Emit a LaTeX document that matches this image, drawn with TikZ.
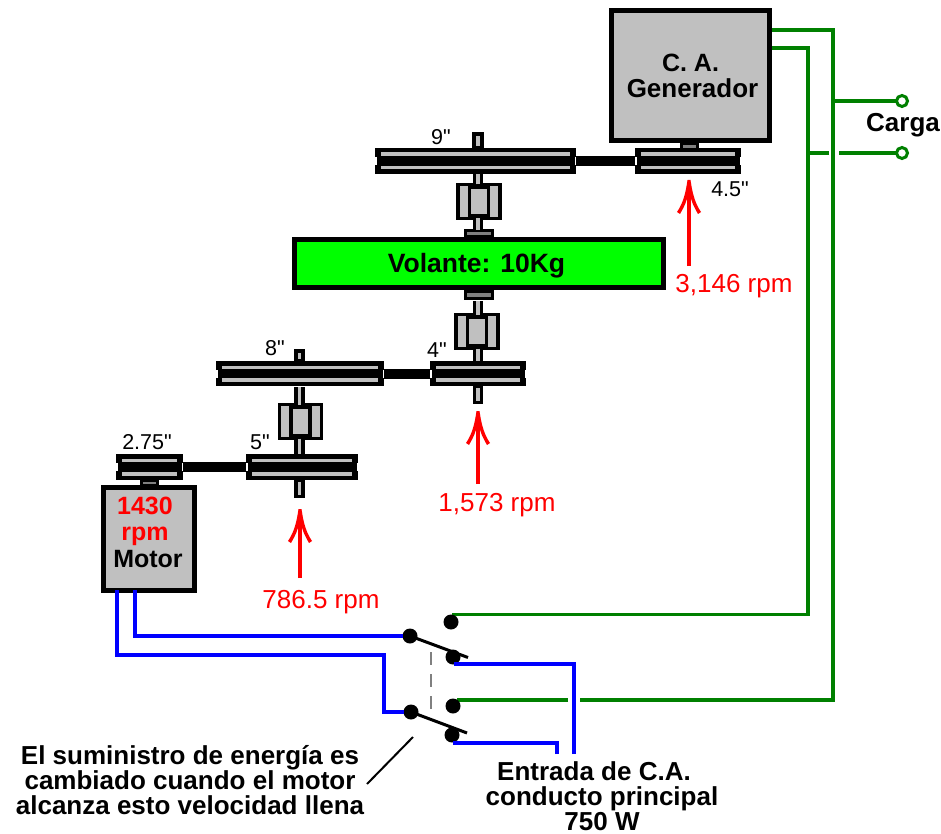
\documentclass[tikz,border=0pt]{standalone}
\usepackage{fontspec}
\setmainfont{Liberation Sans}[Ligatures=TeXOff]
\usetikzlibrary{arrows.meta}
\definecolor{hwgray}{HTML}{C0C0C0}
\definecolor{hwdark}{HTML}{808080}
\definecolor{wgreen}{HTML}{008000}
\definecolor{wblue}{HTML}{0000FF}
\definecolor{rpmred}{HTML}{FF0000}
\definecolor{flygreen}{HTML}{00FF00}
\pgfdeclarearrow{
  name=Flare,
  setup code={%
    \pgfarrowssettipend{0pt}%
    \pgfarrowssetlineend{-12pt}%
    \pgfarrowssetbackend{-34pt}%
    \pgfarrowshullpoint{0pt}{0pt}%
    \pgfarrowshullpoint{-34pt}{12pt}%
    \pgfarrowshullpoint{-34pt}{-12pt}%
  },
  drawing code={%
    \pgfpathmoveto{\pgfpoint{0pt}{1.5pt}}%
    \pgfpathcurveto{\pgfpoint{-10pt}{3pt}}{\pgfpoint{-22pt}{5pt}}{\pgfpoint{-32pt}{12pt}}%
    \pgfpathlineto{\pgfpoint{-34pt}{9pt}}%
    \pgfpathcurveto{\pgfpoint{-27pt}{5pt}}{\pgfpoint{-20pt}{1.5pt}}{\pgfpoint{-15pt}{1.5pt}}%
    \pgfpathlineto{\pgfpoint{-15pt}{-1.5pt}}%
    \pgfpathcurveto{\pgfpoint{-20pt}{-1.5pt}}{\pgfpoint{-27pt}{-5pt}}{\pgfpoint{-34pt}{-9pt}}%
    \pgfpathlineto{\pgfpoint{-32pt}{-12pt}}%
    \pgfpathcurveto{\pgfpoint{-22pt}{-5pt}}{\pgfpoint{-10pt}{-3pt}}{\pgfpoint{0pt}{-1.5pt}}%
    \pgfpathclose
    \pgfusepathqfill
  },
}
\newcommand{\bx}[6]{\node[#6,minimum width={#4-#2},minimum height={#5-#3}] (#1) at ({(#2+#4)/2},{(#3+#5)/2}) {};}
\newcommand{\pulleyat}[5]{%
  \bx{#1}{#2}{#3}{#4}{#5}{solidblack}
  \fill[white] (#2,{(#3+#5)/2-4}) rectangle ({#2+1.5},{(#3+#5)/2+4});
  \fill[white] ({#4-1.5},{(#3+#5)/2-4}) rectangle (#4,{(#3+#5)/2+4});
  \fill[hwgray] ({#2+6},{#3+4.5}) rectangle ({#4-6},{#3+8});
  \fill[hwgray] ({#2+6},{#5-8}) rectangle ({#4-6},{#5-4.5});
}
\newcommand{\bearingat}[5]{%
  \bx{#1}{#2}{#3}{#4}{#5}{hwbox}
  \node[hwbox,minimum width=19,minimum height={#5-#3-5}] at ({(#2+#4)/2},{(#3+#5)/2}) {};
}
\tikzset{
  solidblack/.style={fill=black,inner sep=0,outer sep=0},
  hwbox/.style={draw=black,fill=hwgray,line width=3.4,inner sep=0,outer sep=0},
  massbox/.style={draw=black,line width=5,inner sep=0,outer sep=0,align=center},
  collar/.style={draw=black,fill=hwdark,line width=3,inner sep=0,outer sep=0},
  stub/.style={draw=black,fill=hwgray,line width=3.2,inner sep=0,outer sep=0},
  shaft/.style={draw=black,double=hwgray,double distance=3.6,line width=3.4},
  belt/.style={draw=black,line width=10},
  greenwire/.style={draw=wgreen,line width=3.2},
  bluewire/.style={draw=wblue,line width=3.2},
  speed/.style={draw=rpmred,line width=3.2,-Flare},
  contact/.style={circle,fill=black,minimum size=15,inner sep=0,outer sep=0},
  blade/.style={draw=black,line width=3},
  terminal/.style={circle,draw=wgreen,fill=white,line width=3,minimum size=11,inner sep=0,outer sep=0},
  heavy/.style={font=\fontsize{26}{25}\selectfont\bfseries,inner sep=0,align=center},
  rpmlabel/.style={font=\fontsize{26}{25}\selectfont,text=rpmred,inner sep=0},
  size/.style={font=\fontsize{21.5}{22}\selectfont,inner sep=0},
}
\begin{document}
\begin{tikzpicture}[x=1pt,y=-1pt]
\useasboundingbox (0,0) rectangle (941,834);
\coordinate (gA) at (772,30); \coordinate (gB) at (772,48);
\coordinate (railA) at (833,30); \coordinate (railB) at (808,48);
% pulleys
\pulleyat{pnine}{375}{148}{576}{174}
\pulleyat{pfour5}{635}{148}{741}{174}
\pulleyat{pfour}{430}{361}{526}{386}
\pulleyat{peight}{216}{361}{384}{386}
\pulleyat{pfive}{246}{454}{358}{480}
\pulleyat{ptwo}{116}{454}{183}{480}
% belts
\draw[belt] (pnine.east) -- (pfour5.west);
\draw[belt] (peight.east) -- (pfour.west);
\draw[belt] (ptwo.east) -- (pfive.west);
% masses
\node[massbox,fill=hwgray,minimum width=158,minimum height=130,font=\fontsize{25}{26}\selectfont\bfseries] (gen) at (690.5,75.5) {C. A.\\\hspace*{4pt}\fontsize{26}{26}\selectfont Generador};
\node[massbox,fill=flygreen,minimum width=369,minimum height=48,font=\fontsize{26.5}{26}\selectfont\bfseries] (fly) at (479,263.5) {\raisebox{-8.5pt}[0pt][0pt]{Volante: 10Kg}\hspace*{5pt}};
\node[massbox,fill=hwgray,minimum width=91,minimum height=103] (motor) at (149,538.5) {};
% bearings
\bearingat{bone}{458}{184.5}{500}{218.5}
\bearingat{btwo}{456}{314.5}{498}{348.5}
\bearingat{bthree}{279.5}{404.5}{321.5}{438.5}
% collars
\bx{cgen}{681}{144}{697}{150}{collar}
\bx{cflyt}{465}{230}{492}{236}{collar}
\bx{cflyb}{465}{291}{492}{298}{collar}
\bx{cmot}{141}{480}{157}{485}{collar}
% shafts
\draw[shaft] (bone.north -| fly.north) ++(-1,0) -- ++(0,-10);
\draw[shaft] (bone.south -| fly.south) ++(-1,0) -- ++(0,11);
\draw[shaft] (btwo.north -| fly.south) ++(-1,0) -- ++(0,-14);
\draw[shaft] (btwo.south -| fly.south) ++(-1,0) -- ++(0,12);
\draw[shaft] (bthree.north) ++(-1,0) -- ++(0,-18);
\draw[shaft] (bthree.south) ++(-1,0) -- ++(0,15);
% shaft stubs
\bx{stubA}{474}{134}{482}{148}{stub}
\bx{stubB}{474.5}{386}{481.5}{402.5}{stub}
\bx{stubC}{296}{351}{303}{361}{stub}
\bx{stubD}{296}{480}{303}{496.5}{stub}
% generator wires
\draw[greenwire] (gA) -- (railA) -- (833,700) -- (580,700);
\draw[greenwire] (568,700) -- (457,700);
\draw[greenwire] (gB) -- (railB) -- (808,614.5) -- (452,614.5);
\node[terminal] (tA) at (902,101) {};
\node[terminal] (tB) at (902,153) {};
\draw[greenwire] (tA) -- (833,101);
\draw[greenwire] (tB) -- (839,153);
\draw[greenwire] (829,153) -- (808,153);
% switch
\node[contact] (s1) at (410,636) {};
\node[contact] (s2) at (453,657) {};
\node[contact] (s3) at (451,622) {};
\node[contact] (s4) at (411,712) {};
\node[contact] (s5) at (453,706) {};
\node[contact] (s6) at (452,735) {};
\coordinate (b1) at (468,657.5); \coordinate (b2) at (467,733);
\draw[blade] (s1.center) -- (b1);
\draw[blade] (s4.center) -- (b2);
\draw[hwdark,line width=1.5,dash pattern=on 13 off 9] (431,652) -- (431,714);
% blue wires
\coordinate (mA) at (135,590); \coordinate (mB) at (117,590);
\draw[bluewire] (mA) -- (135,636) -- (s1);
\draw[bluewire] (mB) -- (117,655) -- (384,655) -- (384,712) -- (s4);
\coordinate (inA) at (574,754); \coordinate (inB) at (557,754);
\draw[bluewire] (inA) -- (574,664) -- (454,664);
\draw[bluewire] (inB) -- (557,743) -- (453,743);
% speed arrows
\coordinate (a1s) at (689,266); \coordinate (a1e) at (689,180);
\coordinate (a2s) at (478,484); \coordinate (a2e) at (478,411);
\coordinate (a3s) at (300,578); \coordinate (a3e) at (300,509);
\draw[speed] (a1s) -- (a1e);
\draw[speed] (a2s) -- (a2e);
\draw[speed] (a3s) -- (a3e);
% pointer
\coordinate (pt1) at (367,784); \coordinate (pt2) at (413,737);
\draw[black,line width=2] (pt1) -- (pt2);
% labels
\node[heavy] (carga) at (903,125) {Carga};
\node[heavy,text=rpmred,font=\fontsize{25}{26}\selectfont\bfseries] (mrpm) at (145,521) {1430\\rpm};
\node[heavy,font=\fontsize{25}{26}\selectfont\bfseries] (mname) at (148,559) {Motor};
\node[rpmlabel] (r1) at (734,286) {3,146 rpm};
\node[rpmlabel] (r2) at (497,505) {1,573 rpm};
\node[rpmlabel] (r3) at (321,602) {786.5 rpm};
\node[size] (d9) at (441,137) {9"};
\node[size] (d45) at (730,189) {4.5"};
\node[size] (d8) at (275,348) {8"};
\node[size] (d4) at (437,350) {4"};
\node[size] (d5) at (260,442) {5"};
\node[size] (d275) at (147,442) {2.75"};
\node[heavy] (note) at (190,780) {El suministro de energía es\\cambiado cuando el motor\\alcanza esto velocidad llena};
\node[heavy] (mains) at (602,796) {Entrada de C.A.\hspace*{16pt}\\conducto principal\\750 W};
\end{tikzpicture}
\end{document}
